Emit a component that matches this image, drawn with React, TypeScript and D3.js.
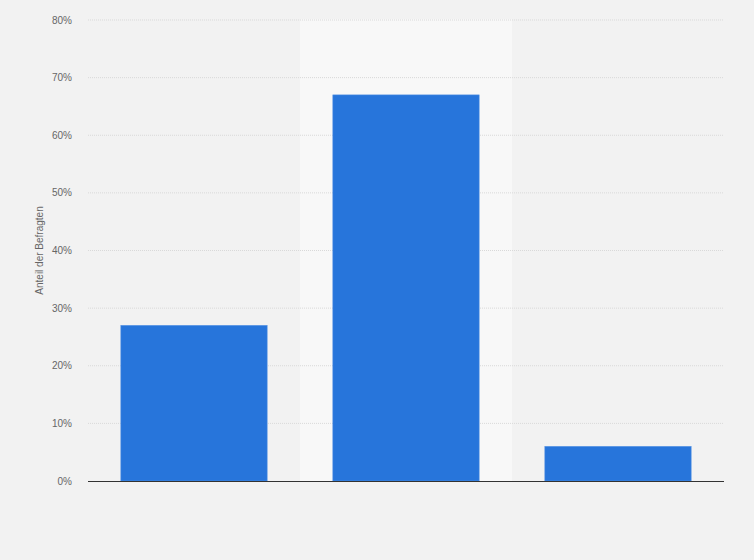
import React from "react";
import * as d3 from "d3";

const categories: string[] = ["Kategorie 1", "Kategorie 2", "Kategorie 3"];
const shares: number[] = [27, 67, 6];
const yTicks: number[] = [0, 10, 20, 30, 40, 50, 60, 70, 80];
const highlighted: string = "Kategorie 2";
const yAxisTitle = "Anteil der Befragten";

const W = 754;
const H = 560;
const M = { left: 88, right: 30, top: 20, bottom: 79 };

export default function App() {
  const x = d3
    .scaleBand<string>()
    .domain(categories)
    .range([M.left, W - M.right])
    .paddingInner(0.31)
    .paddingOuter(0.155);
  const y = d3.scaleLinear().domain([0, 80]).range([H - M.bottom, M.top]);
  const step = x.step();
  const hx = (x(highlighted) as number) - (step - x.bandwidth()) / 2;

  return (
    <svg
      width={W}
      height={H}
      style={{ position: "absolute", left: 0, top: 0, fontFamily: "Arial, 'Liberation Sans', sans-serif" }}
    >
      <rect x={0} y={0} width={W} height={H} fill="#f2f2f2" />
      <rect x={hx} y={y(80) - 1} width={step} height={y(0) - y(80) + 1} fill="#f8f8f8" />
      {yTicks.map((t) => (
        <g key={t}>
          {t > 0 && (
            <line
              x1={M.left}
              x2={W - M.right}
              y1={y(t)}
              y2={y(t)}
              stroke="#d9d9d9"
              strokeWidth={1}
              strokeDasharray="1,1"
            />
          )}
          <text x={72} y={y(t)} dy="0.35em" textAnchor="end" fontSize={10} fill="#666">
            {t + "%"}
          </text>
        </g>
      ))}
      {categories.map((c, i) => (
        <rect
          key={c}
          x={x(c)}
          y={y(shares[i])}
          width={x.bandwidth()}
          height={y(0) - y(shares[i])}
          fill="#2775db"
          stroke="#4f8fe3"
          strokeWidth={0.6}
        />
      ))}
      <line x1={M.left} x2={W - M.right} y1={y(0) + 0.5} y2={y(0) + 0.5} stroke="#333" strokeWidth={1} />
      <text
        transform={`translate(43,${(y(0) + y(80)) / 2}) rotate(-90)`}
        textAnchor="middle"
        fontSize={10}
        fill="#666"
      >
        {yAxisTitle}
      </text>
    </svg>
  );
}
